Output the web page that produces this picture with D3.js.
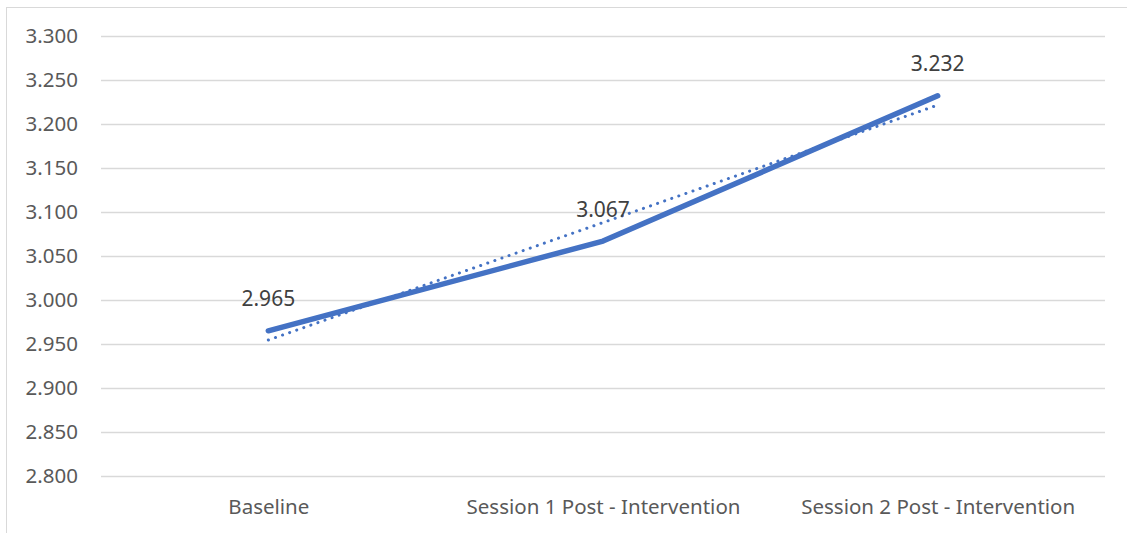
<!DOCTYPE html>
<html>
<head>
<meta charset="utf-8">
<script src="https://cdn.jsdelivr.net/npm/d3@7"></script>
<style>
  html, body { margin: 0; padding: 0; background: #fff; }
  svg { display: block; font-family: "Noto Sans", "Open Sans", sans-serif; }
</style>
</head>
<body>
<svg id="chart" width="1127" height="533"></svg>
<script>
// Mean score by measurement point
const categories = ["Baseline", "Session 1 Post - Intervention", "Session 2 Post - Intervention"];
const values = [2.965, 3.067, 3.232];
const valueLabels = ["2.965", "3.067", "3.232"];
const yTicks = [2.80, 2.85, 2.90, 2.95, 3.00, 3.05, 3.10, 3.15, 3.20, 3.25, 3.30];

const svg = d3.select("#chart");
const W = 1127, H = 533;
const plot = { left: 101, right: 1105, top: 36, bottom: 476 };

// chart frame
svg.append("rect")
  .attr("x", 6.5).attr("y", 7.5)
  .attr("width", W + 10).attr("height", H + 10)
  .attr("fill", "#fff").attr("stroke", "#d9d9d9").attr("stroke-width", 1);

const x = d3.scalePoint().domain(categories)
  .range([plot.left, plot.right]).padding(0.5);
const y = d3.scaleLinear().domain([2.8, 3.3]).range([plot.bottom, plot.top]);

// gridlines
svg.append("g").selectAll("line").data(yTicks).join("line")
  .attr("x1", plot.left).attr("x2", plot.right)
  .attr("y1", d => Math.round(y(d)) + 0.5).attr("y2", d => Math.round(y(d)) + 0.5)
  .attr("stroke", "#d9d9d9").attr("stroke-width", 1.3);

// y axis labels
const yAxis = d3.axisLeft(y).tickValues(yTicks).tickFormat(d3.format(".3f")).tickSize(0).tickPadding(0);
const gy = svg.append("g").attr("transform", `translate(78,0)`).call(yAxis);
gy.select(".domain").remove();
gy.selectAll("text").attr("fill", "#595959").attr("font-size", 20.5)
  .attr("font-family", "'Noto Sans', sans-serif");

// x axis labels
const xAxis = d3.axisBottom(x).tickSize(0).tickPadding(0);
const gx = svg.append("g").attr("transform", `translate(0,${plot.bottom + 23})`).call(xAxis);
gx.select(".domain").remove();
gx.selectAll("text").attr("fill", "#595959").attr("font-size", 20.5)
  .attr("font-family", "'Noto Sans', sans-serif");

// linear trendline (least squares over category index)
const n = values.length;
const xs = values.map((_, i) => i + 1);
const mx = d3.mean(xs), my = d3.mean(values);
const slope = d3.sum(xs.map((xi, i) => (xi - mx) * (values[i] - my))) / d3.sum(xs.map(xi => (xi - mx) ** 2));
const intercept = my - slope * mx;
const trend = categories.map((c, i) => [x(c), y(intercept + slope * (i + 1))]);

svg.append("path")
  .attr("d", d3.line()([trend[0], trend[n - 1]]))
  .attr("fill", "none").attr("stroke", "#4472c4")
  .attr("stroke-width", 3).attr("stroke-linecap", "round")
  .attr("stroke-dasharray", "0.1 7.4");

// series line
svg.append("path")
  .datum(values)
  .attr("d", d3.line().x((d, i) => x(categories[i])).y(d => y(d)))
  .attr("fill", "none").attr("stroke", "#4472c4")
  .attr("stroke-width", 5.5).attr("stroke-linecap", "round").attr("stroke-linejoin", "round");

// data labels
svg.append("g").selectAll("text").data(values).join("text")
  .attr("x", (d, i) => x(categories[i]))
  .attr("y", d => y(d) - 24.5)
  .attr("text-anchor", "middle")
  .attr("fill", "#404040").attr("font-size", 21)
  .text((d, i) => valueLabels[i]);
</script>
</body>
</html>
